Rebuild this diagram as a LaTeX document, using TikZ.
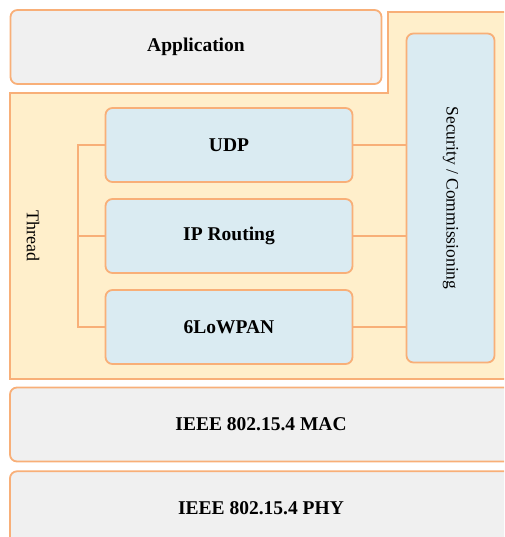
\documentclass[tikz,border=0pt]{standalone}
\usepackage{fontspec}
\setmainfont{Liberation Serif}
\usetikzlibrary{positioning, calc}
\definecolor{edgeOrange}{HTML}{F8AF78}
\definecolor{threadFill}{HTML}{FFEFCB}
\definecolor{layerGray}{HTML}{F0F0F0}
\definecolor{blueBoxLight}{HTML}{DAEBF2}

\begin{document}
\begin{tikzpicture}[x=1pt, y=-1pt, node distance=15.2pt,
  every node/.style={text=black, font=\fontsize{18}{20}\selectfont},
  link/.style={draw=edgeOrange, line width=2pt},
  layer/.style={draw=edgeOrange, line width=1.8pt, fill=layerGray,
                rounded corners=7pt, minimum height=74pt, inner sep=0pt,
                font=\fontsize{19.5}{22}\selectfont\bfseries},
  protoblock/.style={draw=edgeOrange, line width=1.8pt, fill=blueBoxLight,
                     rounded corners=7pt, minimum width=247pt,
                     minimum height=74pt, inner sep=0pt,
                     font=\fontsize{19.5}{22}\selectfont\bfseries}]

  \useasboundingbox (0,0) rectangle (504,537);
  \clip (0,0) rectangle (504,537);

  %% ═══════════════════════════════════════════════════════════════
  %% THREAD REGION (L-shaped background)
  %% ═══════════════════════════════════════════════════════════════

  \draw[draw=edgeOrange, line width=1.8pt, fill=threadFill]
      (10,93) -- (388,93) -- (388,12) -- (520,12) -- (520,379)
      -- (10,379) -- cycle;

  \node[rotate=-90] (thread) at (33,236) {Thread};

  %% ═══════════════════════════════════════════════════════════════
  %% TOP: APPLICATION
  %% ═══════════════════════════════════════════════════════════════

  \node[layer, minimum width=371pt] (app) at (196,47) {Application};

  %% ═══════════════════════════════════════════════════════════════
  %% PROTOCOL STACK INSIDE THREAD
  %% ═══════════════════════════════════════════════════════════════

  \node[protoblock] (udp) at (229,145) {UDP};
  \node[protoblock, below=of udp]   (iprt)   {IP Routing};
  \node[protoblock, below=of iprt]  (lowpan) {6LoWPAN};

  \node[protoblock, minimum width=88pt, minimum height=329pt,
        font=\fontsize{17.5}{20}\selectfont] (sec) at (450.5,198)
      {\rotatebox{-90}{Security / Commissioning}};

  % bracket on the left
  \draw[link] (udp.west) -- ++(-26.6,0) coordinate (brtop)
              |- (lowpan.west);
  \draw[link] (iprt.west) -- (iprt.west -| brtop);

  % links to security
  \draw[link] (udp.east)    -- (udp.east -| sec.west);
  \draw[link] (iprt.east)   -- (iprt.east -| sec.west);
  \draw[link] (lowpan.east) -- (lowpan.east -| sec.west);

  %% ═══════════════════════════════════════════════════════════════
  %% BOTTOM: IEEE 802.15.4
  %% ═══════════════════════════════════════════════════════════════

  \node[layer, minimum width=502pt] (mac) at (261,424.5) {IEEE 802.15.4 MAC};
  \node[layer, minimum width=502pt, below=8pt of mac] (phy) {IEEE 802.15.4 PHY};

\end{tikzpicture}
\end{document}
